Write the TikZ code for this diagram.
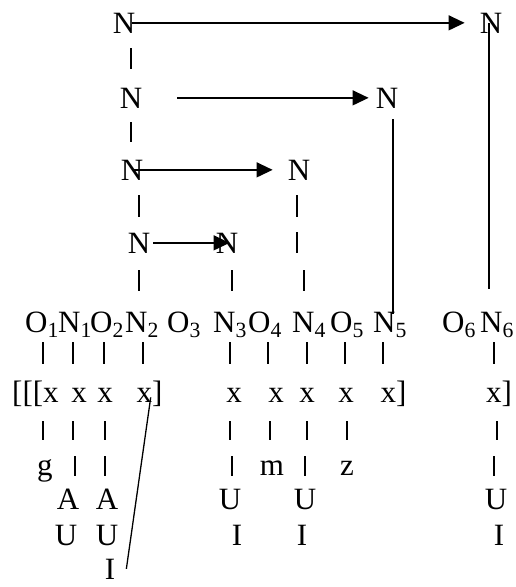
\documentclass[tikz,border=0pt]{standalone}
\usepackage{fontspec}
\setmainfont{Liberation Serif}
\usetikzlibrary{arrows.meta}
\tikzset{
  seg/.style = {inner sep=0pt, anchor=base},
  segw/.style = {inner sep=0pt, anchor=base west},
  line/.style = {-{Triangle[length=16pt,width=15pt]}, line width=1.3pt},
  link/.style = {line width=1.3pt},
  tick/.style = {line width=1.3pt}
}

\begin{document}
\begin{tikzpicture}[x=1pt, y=-1pt, font=\fontsize{31}{37}\selectfont]
\useasboundingbox (0,0) rectangle (516,587);

% Upper levels
\node[seg] (na1) at (124,33) {N};
\node[seg] (nb1) at (491,33) {N};
\node[seg] (na2) at (131,108) {N};
\node[seg] (nb2) at (387,108) {N};
\node[seg] (na3) at (132,180) {N};
\node[seg] (nb3) at (299,180) {N};
\node[seg] (na4) at (139,253) {N};
\node[seg] (nb4) at (227,253) {N};

% Skeleton row
\node[segw] (o1) at (25,332) {O\textsubscript{1}};
\node[segw] (n1) at (58,332) {N\textsubscript{1}};
\node[segw] (o2) at (90,332) {O\textsubscript{2}};
\node[segw] (n2) at (125,332) {N\textsubscript{2}};
\node[segw] (o3) at (167,332) {O\textsubscript{3}};
\node[segw] (n3) at (213,332) {N\textsubscript{3}};
\node[segw] (o4) at (248,332) {O\textsubscript{4}};
\node[segw] (n4) at (292,332) {N\textsubscript{4}};
\node[segw] (o5) at (330,332) {O\textsubscript{5}};
\node[segw] (n5) at (373,332) {N\textsubscript{5}};
\node[segw] (o6) at (442,332) {O\textsubscript{6}};
\node[segw] (n6) at (480,332) {N\textsubscript{6}};

% Timing slots
\node[segw] (x1) at (12,402) {[[[x};
\node[seg] (x2) at (79,402) {x};
\node[seg] (x3) at (105,402) {x};
\node[segw] (x4) at (136.5,402) {x]};
\node[seg] (x5) at (234,402) {x};
\node[seg] (x6) at (276,402) {x};
\node[seg] (x7) at (307,402) {x};
\node[seg] (x8) at (346,402) {x};
\node[segw] (x9) at (380.5,402) {x]};
\node[segw] (x10) at (486,402) {x]};

% Melody
\node[seg] (gl) at (45,475) {g};
\node[seg] (ml) at (272,475) {m};
\node[seg] (zl) at (347,475) {z};
\node[seg] (a1) at (68,509) {A};
\node[seg] (a2) at (107,509) {A};
\node[seg] (u3) at (230,509) {U};
\node[seg] (u4) at (305,509) {U};
\node[seg] (u6) at (496,509) {U};
\node[seg] (u1) at (66,545) {U};
\node[seg] (u2) at (107,545) {U};
\node[seg] (i3) at (237,545) {I};
\node[seg] (i4) at (302,545) {I};
\node[seg] (i6) at (499,545) {I};
\node[seg] (i2) at (110,579) {I};

% Arrows
\draw[line, shorten <=-3pt, shorten >=15pt] (na1) -- (nb1);
\draw[line, shorten <=35pt, shorten >=7pt] (na2) -- (nb2);
\draw[line, shorten <=-10pt, shorten >=15pt] (na3) -- (nb3);
\draw[line, shorten <=3pt, shorten >=-14pt] (na4) -- (nb4);

\draw[link, shorten >=23pt] ([xshift=-2pt]nb1.center) -- ([xshift=-2pt]nb1.center |- n6.north);
\draw[link, shorten <=11pt, shorten >=-2pt] ([xshift=6pt]nb2.south) -- ([xshift=6pt]nb2.south |- n5.north);
\draw[link] ([xshift=-12pt,yshift=-4pt]x4.east) -- ([xshift=11pt]i2.east);

% Association bars
\draw[tick] (131,48) -- (131,69) (131,122) -- (131,142);
\draw[tick] (139,195) -- (139,217) (297,195) -- (297,217) (297,232) -- (297,253);
\draw[tick] (139,270) -- (139,291) (232,270) -- (232,291) (304,270) -- (304,291);
\draw[tick] (43,342) -- (43,364) (73,342) -- (73,364) (104,342) -- (104,364) (143,342) -- (143,364);
\draw[tick] (230,342) -- (230,364) (268,342) -- (268,364) (307,342) -- (307,364) (345,342) -- (345,364);
\draw[tick] (383,342) -- (383,364) (494,342) -- (494,364);
\draw[tick] (43,421) -- (43,440) (73,421) -- (73,440) (105,421) -- (105,440) (230,421) -- (230,440);
\draw[tick] (270,421) -- (270,440) (307,421) -- (307,440) (347,421) -- (347,440) (497,421) -- (497,440);
\draw[tick] (75,456) -- (75,476) (105,456) -- (105,476) (232,456) -- (232,476) (305,456) -- (305,476) (494,456) -- (494,476);

\end{tikzpicture}
\end{document}
